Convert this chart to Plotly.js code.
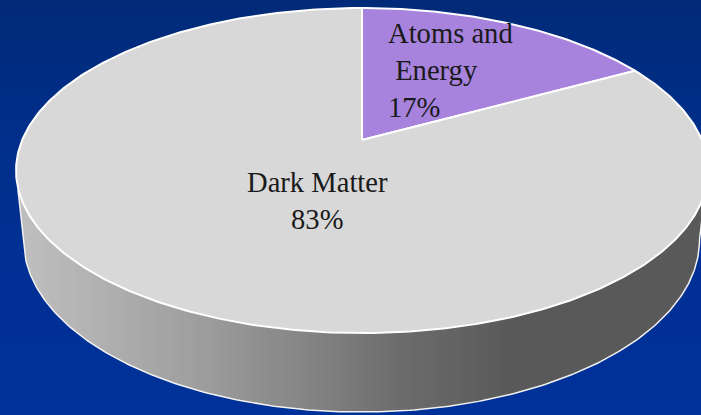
<!DOCTYPE html>
<html><head><meta charset="utf-8">
<script src="https://cdn.plot.ly/plotly-3.0.1.min.js"></script>
<style>html,body{margin:0;padding:0;background:#002f8e}#c{width:701px;height:415px}</style>
</head><body><div id="c"></div>
<script>
const labels = ["Atoms and<br>\u00a0Energy", "Dark Matter"];
const values = [17, 83];
const sliceColors = ["#a783dd", "#d8d8d8"];
const sidePos = [0, 0.26, 0.41, 0.556, 0.72, 1];
const sideGray = [190, 157, 133, 108, 89, 89];
const bgY = [0, 120, 260, 415];
const bgColors = [[1,42,120],[0,46,136],[0,48,148],[0,49,154]];

const W = 701, H = 415, CX = 362, CY = 140;
const A = 339.8, B = 156.8, K = 0.188;
const PX = x => (x - CX) / A, PY = y => (CY - y) / B;
const proj = t => { const w = 1 + K * Math.cos(t); return [Math.sin(t) / w, Math.cos(t) / w]; };
const lerp = (a, b, f) => a + (b - a) * f;

function arc(t0, t1) {
  const xs = [], ys = [];
  const n = Math.max(4, Math.ceil((t1 - t0) * 80));
  for (let i = 0; i <= n; i++) {
    const p = proj(lerp(t0, t1, i / n));
    xs.push(p[0]); ys.push(p[1]);
  }
  return [xs, ys];
}

// Lower outline of the pie's side, in pixels
const bot = {cx: 361.5, cy: 240, rx: 338, ry: 172};
const wallL = {x: 18, y: 190}, wallR = {x: 703.5, y: 205};
const lowerY = x => {
  const xl = bot.cx - bot.rx, xr = bot.cx + bot.rx;
  if (x < xl) return lerp(wallL.y, bot.cy, (x - wallL.x) / (xl - wallL.x));
  if (x > xr) return lerp(bot.cy, wallR.y, (x - xr) / (wallR.x - xr));
  const d = (x - bot.cx) / bot.rx;
  return bot.cy + bot.ry * Math.sqrt(Math.max(0, 1 - d * d));
};
function grayAt(f) {
  if (f <= 0) return sideGray[0];
  for (let i = 1; i < sidePos.length; i++) {
    if (f <= sidePos[i]) {
      return Math.round(lerp(sideGray[i - 1], sideGray[i], (f - sidePos[i - 1]) / (sidePos[i] - sidePos[i - 1])));
    }
  }
  return sideGray[sideGray.length - 1];
}

const traces = [];
// Background gradient
const zRows = [], yRows = [];
for (let y = 0; y <= H; y += 5) { yRows.push(PY(y)); zRows.push([y, y]); }
const cs = bgY.map((y, i) => [y / H, `rgb(${bgColors[i].join(",")})`]);
traces.push({type: "heatmap", x: [PX(0), PX(W)], y: yRows, z: zRows, zmin: 0, zmax: H,
  colorscale: cs, showscale: false, hoverinfo: "skip", zsmooth: "best"});

// Side wall: gradient strips
const x0 = wallL.x, x1 = wallR.x, strip = 4;
for (let x = x0; x < x1; x += strip) {
  const xs = [], ys = [];
  const xe = Math.min(x + 2 * strip, x1);
  for (let q = x; q <= xe; q += 0.5) { xs.push(PX(q)); ys.push(PY(lowerY(q))); }
  xs.push(PX(xe), PX(x)); ys.push(PY(180), PY(180));
  const g = grayAt((x - 26) / 671);
  traces.push({type: "scatter", mode: "lines", x: xs, y: ys, fill: "toself",
    fillcolor: `rgb(${g},${g},${g})`, line: {width: 0}, hoverinfo: "skip"});
}
// Outline of side wall
const ox = [PX(wallL.x)], oy = [PY(wallL.y)];
for (let i = 0; i <= 240; i++) {
  const t = Math.PI * (1 - i / 240);
  const px = bot.cx + bot.rx * Math.cos(t), py = bot.cy + bot.ry * Math.sin(t);
  ox.push(PX(px)); oy.push(PY(py));
}
ox.push(PX(wallR.x)); oy.push(PY(wallR.y));
traces.push({type: "scatter", mode: "lines", x: ox, y: oy,
  line: {color: "#f2f2f2", width: 1.5}, hoverinfo: "skip"});

// Top face slices, from the values
const total = values.reduce((a, b) => a + b, 0);
let ang = 0;
values.forEach((v, i) => {
  const t1 = ang + v / total * 2 * Math.PI;
  const [xs, ys] = arc(ang, t1);
  traces.push({type: "scatter", mode: "lines", x: [0, ...xs, 0], y: [0, ...ys, 0], fill: "toself",
    fillcolor: sliceColors[i], line: {color: "#ffffff", width: 2}, hoverinfo: "skip"});
  ang = t1;
});

const note = (i, px, py) => ({
  xref: "paper", yref: "paper", x: px / W, y: 1 - py / H, xanchor: "left", yanchor: "top",
  align: i === 1 ? "center" : "left", showarrow: false,
  text: labels[i] + "<br>" + values[i] + "%",
  font: {family: "Liberation Serif, serif", size: 28.6, color: "#1a1a1a"}
});

Plotly.newPlot("c", traces, {
  width: W, height: H, margin: {l: 0, r: 0, t: 0, b: 0},
  paper_bgcolor: "#002f8e", plot_bgcolor: "rgba(0,0,0,0)", showlegend: false,
  xaxis: {range: [PX(0), PX(W)], visible: false, fixedrange: true},
  yaxis: {range: [PY(H), PY(0)], visible: false, fixedrange: true},
  annotations: [note(0, 386, 16), note(1, 245, 165)]
}, {staticPlot: true, displayModeBar: false});
</script></body></html>
